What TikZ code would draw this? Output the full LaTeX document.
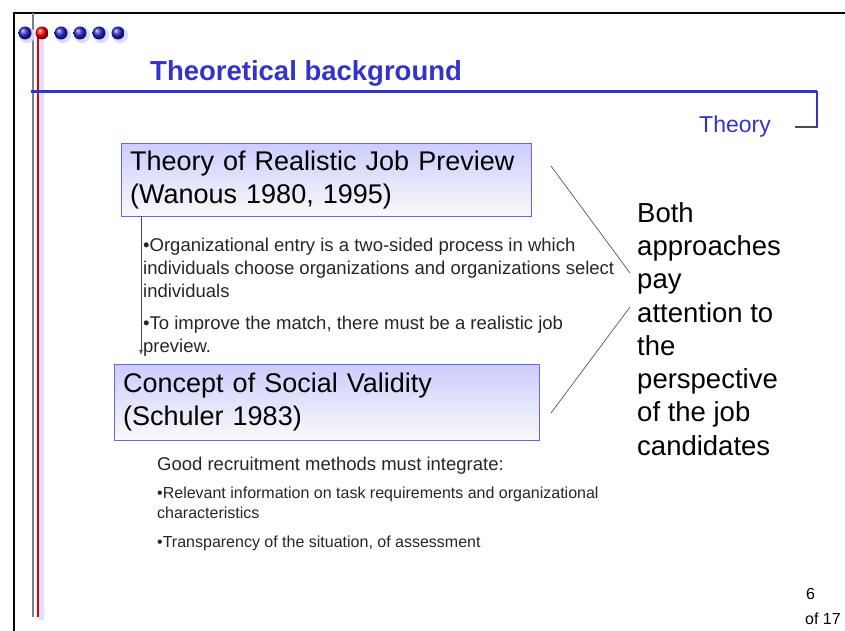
\documentclass[tikz,border=0pt]{standalone}
\usepackage{fontspec}
\setmainfont{Liberation Sans}
\usetikzlibrary{positioning}

\definecolor{slideblue}{RGB}{51,51,204}
\definecolor{boxline}{RGB}{102,102,235}
\definecolor{boxtop}{RGB}{204,204,255}
\definecolor{ballblue}{RGB}{40,40,210}

\begin{document}
\begin{tikzpicture}[x=1pt,y=-1pt]
\tikzset{
    titletext/.style={font=\fontsize{27.5}{30}\selectfont\bfseries, text=slideblue, inner sep=0pt, anchor=base west},
    headbox/.style={draw=boxline, top color=boxtop, bottom color=gray!4, anchor=north west,
        align=left, inner xsep=9pt, inner ysep=0pt, font=\fontsize{27}{33}\selectfont},
    smalltext/.style={anchor=north west, align=left, inner sep=0pt, text=black!85},
    bigtext/.style={anchor=north west, align=left, inner sep=0pt, font=\fontsize{27.5}{33.3}\selectfont},
    joinline/.style={draw=black!75, line width=0.6pt},
}
\useasboundingbox (0,0) rectangle (845,631);

% Slide frame and side bars
\draw[line width=2.5pt] (14,631) -- (14,13) -- (845,13);
\draw[gray, line width=2pt] (33,13) -- (33,617);
\draw[blue!12, line width=6pt] (41,40) -- (41,620);
\draw[red!90!black, line width=2.5pt] (38,33) -- (38,617);

% Row of balls
\foreach \bx in {25,61,80,99,118} {
    \fill[blue!15] (\bx+2,35) circle (8pt);
    \shade[ball color=ballblue] (\bx,33) circle (6.5pt);
}
\shade[ball color=red] (42,33) circle (6.5pt);

% Title and rule
\node[titletext] (title) at (150,81) {Theoretical background};
\draw[slideblue, line width=3pt] (31,92) -- (817,92);
\draw[slideblue, line width=1.5pt] (817,91) -- (817,127);
\draw[black!70, line width=1.5pt] (795,127) -- (818,127);
\node[font=\fontsize{23}{26}\selectfont, text=slideblue, anchor=base east, inner sep=0pt] (section) at (771,133) {Theory};

% Boxes
\node[headbox, text width=392pt, minimum height=73pt] (rjp) at (121,143)
    {Theory of Realistic Job Preview\\(Wanous 1980, 1995)};
\node[headbox, text width=407pt, minimum height=76pt] (social) at (114,364)
    {Concept of Social Validity\\(Schuler 1983)};

% Text under the first box
\node[smalltext, font=\fontsize{18.5}{23}\selectfont] (entry) at (143,237.5)
    {•Organizational entry is a two-sided process in which\\
     individuals choose organizations and organizations select\\
     individuals\\[9pt]
     •To improve the match, there must be a realistic job\\
     preview.};
\draw[black!70, line width=0.8pt, -latex] ([xshift=20pt]rjp.south west) -- ([xshift=27pt]social.north west |- 0,355);

% Text under the second box
\node[smalltext, anchor=base west, font=\fontsize{18.5}{22}\selectfont] (good) at (157,470)
    {Good recruitment methods must integrate:};
\node[smalltext, font=\fontsize{16}{20}\selectfont] (relevant) at (157,487)
    {•Relevant information on task requirements and organizational\\
     characteristics\\[9pt]
     •Transparency of the situation, of assessment};

% Right hand statement
\node[bigtext] (both) at (637,202)
    {Both\\approaches\\pay\\attention to\\the\\perspective\\of the job\\candidates};
\coordinate (tipA) at (551,166);
\coordinate (joinA) at (630,273);
\coordinate (joinB) at (630,307);
\coordinate (tipB) at (551,413);
\draw[joinline] (tipA) -- (joinA);
\draw[joinline] (joinB) -- (tipB);

% Page number
\node[font=\fontsize{16}{18}\selectfont, anchor=base west, inner sep=0pt] (page) at (806,599) {6};
\node[font=\fontsize{16}{18}\selectfont, anchor=base west, inner sep=0pt] (total) at (805,624) {of 17};
\end{tikzpicture}
\end{document}
